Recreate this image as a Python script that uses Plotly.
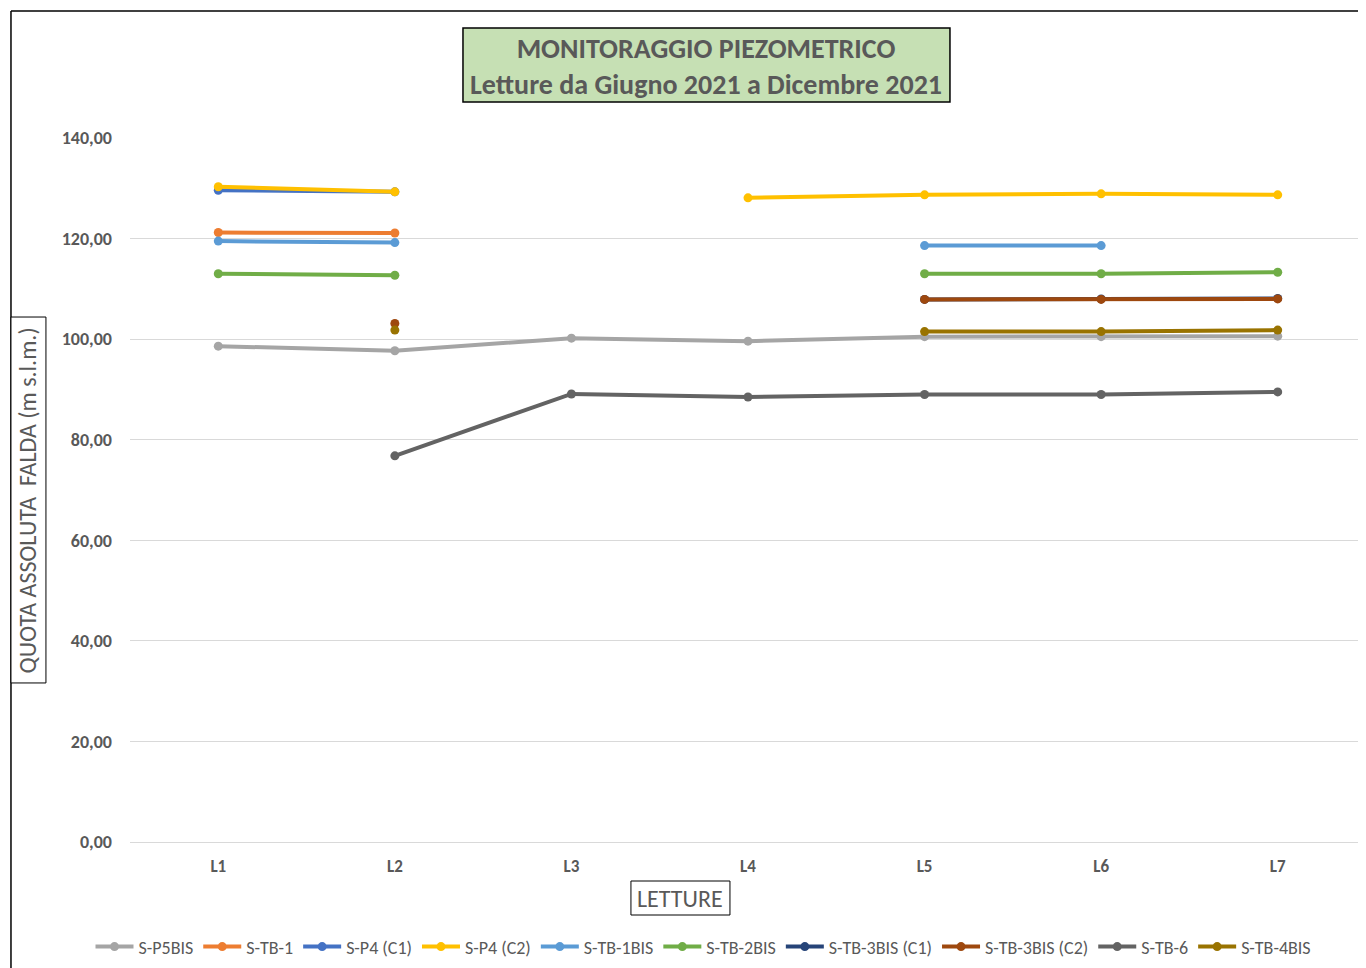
import plotly.graph_objects as go

categories = ["L1", "L2", "L3", "L4", "L5", "L6", "L7"]

series_names = ["S-P5BIS", "S-TB-1", "S-P4 (C1)", "S-P4 (C2)", "S-TB-1BIS",
                "S-TB-2BIS", "S-TB-3BIS (C1)", "S-TB-3BIS (C2)", "S-TB-6", "S-TB-4BIS"]

s_p5bis = [98.6, 97.7, 100.2, 99.6, 100.5, 100.5, 100.6]
s_tb_1 = [121.2, 121.1, None, None, None, None, None]
s_p4_c1 = [129.6, 129.3, None, None, None, None, None]
s_p4_c2 = [130.3, 129.3, None, 128.1, 128.7, 128.9, 128.7]
s_tb_1bis = [119.5, 119.2, None, None, 118.6, 118.6, None]
s_tb_2bis = [113.0, 112.7, None, None, 113.0, 113.0, 113.3]
s_tb_3bis_c1 = [None, None, None, None, 107.9, 108.0, 108.1]
s_tb_3bis_c2 = [None, 103.1, None, None, 107.9, 107.9, 108.0]
s_tb_6 = [None, 76.8, 89.1, 88.5, 89.0, 89.0, 89.5]
s_tb_4bis = [None, 101.8, None, None, 101.5, 101.5, 101.8]

series_values = [s_p5bis, s_tb_1, s_p4_c1, s_p4_c2, s_tb_1bis,
                 s_tb_2bis, s_tb_3bis_c1, s_tb_3bis_c2, s_tb_6, s_tb_4bis]

colors = ["#A5A5A5", "#ED7D31", "#4472C4", "#FFC000", "#5B9BD5",
          "#70AD47", "#264478", "#9E480E", "#636363", "#997300"]

y_ticks = [0, 20, 40, 60, 80, 100, 120, 140]

FONT = "Calibri, Carlito, 'Open Sans', sans-serif"
TXT = "#595959"

fig = go.Figure()
for name, vals, col in zip(series_names, series_values, colors):
    fig.add_trace(go.Scatter(
        x=categories, y=vals, name=name, mode="lines+markers",
        line=dict(color=col, width=4), marker=dict(color=col, size=9),
        connectgaps=False,
    ))

# page body has an 8px margin: figure is 1358x960 placed at (8,8)
fig.update_layout(
    width=1358, height=960,
    margin=dict(l=122, r=0, t=130, b=126),
    paper_bgcolor="white", plot_bgcolor="white",
    separators=",.",
    font=dict(family=FONT, color=TXT, size=14),
    showlegend=True,
    legend=dict(orientation="h", x=0.464, xanchor="center", y=-0.149, yanchor="middle",
                font=dict(size=18, color=TXT), itemwidth=38, tracegroupgap=0),
    xaxis=dict(type="category", range=[-0.5, 6.5], showgrid=False, showline=False,
               zeroline=False, ticks="", tickfont=dict(size=17, color=TXT, family=FONT, weight="bold"),
               ticklabelstandoff=12),
    yaxis=dict(range=[0, 140], tickvals=y_ticks, tickformat=".2f", showgrid=True,
               gridcolor="#D9D9D9", gridwidth=1, zeroline=True, zerolinecolor="#D9D9D9",
               zerolinewidth=1, showline=False, ticks="",
               tickfont=dict(size=18, color=TXT, family=FONT, weight="bold"), ticklabelstandoff=17),
)

# outer chart frame (left and top edges)
fig.add_shape(type="line", xref="paper", yref="paper", x0=-0.0963, x1=-0.0963, y0=-0.2, y1=1.1804,
              line=dict(color="black", width=1.5))
fig.add_shape(type="line", xref="paper", yref="paper", x0=-0.0963, x1=1.01, y0=1.1804, y1=1.1804,
              line=dict(color="black", width=1.5))

# title box
fig.add_shape(type="rect", xref="paper", yref="paper", x0=0.2694, x1=0.6634, y0=1.0511, y1=1.1563,
              fillcolor="#C6E0B4", line=dict(color="black", width=1.5))
fig.add_annotation(xref="paper", yref="paper", x=0.4664, y=1.102, xanchor="center", yanchor="middle",
                   showarrow=False,
                   text="<b>MONITORAGGIO PIEZOMETRICO</b><br><b>Letture da Giugno 2021 a Dicembre 2021</b>",
                   font=dict(size=28, color=TXT, family=FONT), align="center")

# y-axis title box
fig.add_shape(type="rect", xref="paper", yref="paper", x0=-0.0963, x1=-0.068, y0=0.2259, y1=0.7457,
              fillcolor="white", line=dict(color="black", width=1))
fig.add_annotation(xref="paper", yref="paper", x=-0.0822, y=0.4858, xanchor="center", yanchor="middle",
                   showarrow=False,
                   text="QUOTA ASSOLUTA  FALDA (m s.l.m.)", textangle=-90,
                   font=dict(size=24, color=TXT, family=FONT))

# x-axis title box
fig.add_shape(type="rect", xref="paper", yref="paper", x0=0.4053, x1=0.4854, y0=-0.1037, y1=-0.0554,
              fillcolor="white", line=dict(color="black", width=1))
fig.add_annotation(xref="paper", yref="paper", x=0.4453, y=-0.0796, xanchor="center", yanchor="middle",
                   showarrow=False,
                   text="LETTURE", font=dict(size=24, color=TXT, family=FONT))

fig.write_html("out.html")
